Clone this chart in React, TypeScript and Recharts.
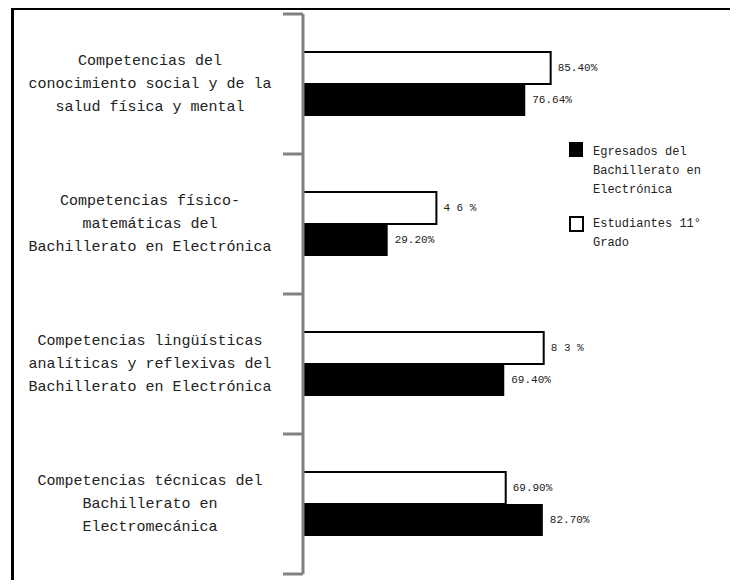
import { Bar, BarChart, LabelList, XAxis, YAxis } from 'recharts';

const categories = [
  'Competencias del\nconocimiento social y de la\nsalud física y mental',
  'Competencias físico-\nmatemáticas del\nBachillerato en Electrónica',
  'Competencias lingüísticas\nanalíticas y reflexivas del\nBachillerato en Electrónica',
  'Competencias técnicas del\nBachillerato en\nElectromecánica',
];
const estudiantes = [85.4, 46, 83, 69.9];
const egresados = [76.64, 29.2, 69.4, 82.7];
const estudiantesLabels = ['85.40%', '4 6 %', '8 3 %', '69.90%'];
const egresadosLabels = ['76.64%', '29.20%', '69.40%', '82.70%'];
const legendLines = [
  ['Egresados del', 'Bachillerato en', 'Electrónica'],
  ['Estudiantes 11°', 'Grado'],
];

const data = categories.map((name, i) => ({
  name,
  estudiantes: estudiantes[i],
  egresados: egresados[i],
  estudiantesLabel: estudiantesLabels[i],
  egresadosLabel: egresadosLabels[i],
}));

const FONT = '"Liberation Mono", "Courier New", monospace';
const CHART_W = 724;
const CHART_H = 570;
const MARGIN = { top: 4, right: 145, bottom: 6, left: 0 };
const AXIS_W = 289;
const BAND = (CHART_H - MARGIN.top - MARGIN.bottom) / categories.length;

const CategoryTick = (props: any) => {
  const { y, payload, index } = props;
  const lines = String(payload.value).split('\n');
  const lineH = 23;
  const start = y - ((lines.length - 1) * lineH) / 2;
  return (
    <g>
      <line x1={AXIS_W - 20} x2={AXIS_W} y1={y - BAND / 2} y2={y - BAND / 2} stroke="#808080" strokeWidth={3} />
      {index === categories.length - 1 && (
        <line x1={AXIS_W - 20} x2={AXIS_W} y1={y + BAND / 2} y2={y + BAND / 2} stroke="#808080" strokeWidth={3} />
      )}
      <text x={136} y={start} textAnchor="middle" dominantBaseline="central" fontFamily={FONT} fontSize={15} fill="#222">
        {lines.map((l, i) => (
          <tspan key={i} x={136} y={start + i * lineH}>
            {l}
          </tspan>
        ))}
      </text>
    </g>
  );
};

const ValueLabel = (props: any) => {
  const { x, y, width, height, value } = props;
  return (
    <text
      x={x + width + 7}
      y={y + height / 2}
      dominantBaseline="central"
      fontFamily={FONT}
      fontSize={11}
      fill="#222"
    >
      {value}
    </text>
  );
};

const LegendBox = () => (
  <div
    style={{
      position: 'absolute',
      left: 555,
      top: 132,
      fontFamily: FONT,
      fontSize: 12,
      lineHeight: '19px',
      color: '#222',
    }}
  >
    <div style={{ display: 'flex', alignItems: 'flex-start' }}>
      <div style={{ width: 14, height: 15, background: '#000', marginRight: 10, flexShrink: 0 }} />
      <div style={{ marginTop: 1 }}>
        {legendLines[0].map((l) => (
          <div key={l}>{l}</div>
        ))}
      </div>
    </div>
    <div style={{ display: 'flex', alignItems: 'flex-start', marginTop: 15 }}>
      <div
        style={{
          width: 11,
          height: 12,
          border: '2px solid #000',
          background: '#fff',
          marginRight: 9,
          flexShrink: 0,
          marginTop: 1,
        }}
      />
      <div>
        {legendLines[1].map((l) => (
          <div key={l}>{l}</div>
        ))}
      </div>
    </div>
  </div>
);

export default function App() {
  return (
    <>
      <style>{'body{overflow:hidden}'}</style>
      <div
        style={{
          position: 'relative',
          marginTop: -1,
          marginLeft: 3,
          width: 727,
          borderTop: '3px solid #000',
          borderLeft: '3px solid #000',
          background: '#fff',
        }}
      >
        <BarChart
          width={CHART_W}
          height={CHART_H}
          data={data}
          layout="vertical"
          margin={MARGIN}
          barGap={0}
          barSize={32}
        >
          <XAxis type="number" domain={[0, 100]} hide />
          <YAxis
            type="category"
            dataKey="name"
            width={AXIS_W}
            axisLine={{ stroke: '#808080', strokeWidth: 3 }}
            tickLine={false}
            tick={CategoryTick}
            interval={0}
          />
          <Bar
            dataKey="estudiantes"
            fill="#fff"
            stroke="#000"
            strokeWidth={2}
            isAnimationActive={false}
          >
            <LabelList dataKey="estudiantesLabel" content={ValueLabel} />
          </Bar>
          <Bar dataKey="egresados" fill="#000" isAnimationActive={false}>
            <LabelList dataKey="egresadosLabel" content={ValueLabel} />
          </Bar>
        </BarChart>
        <LegendBox />
      </div>
    </>
  );
}
